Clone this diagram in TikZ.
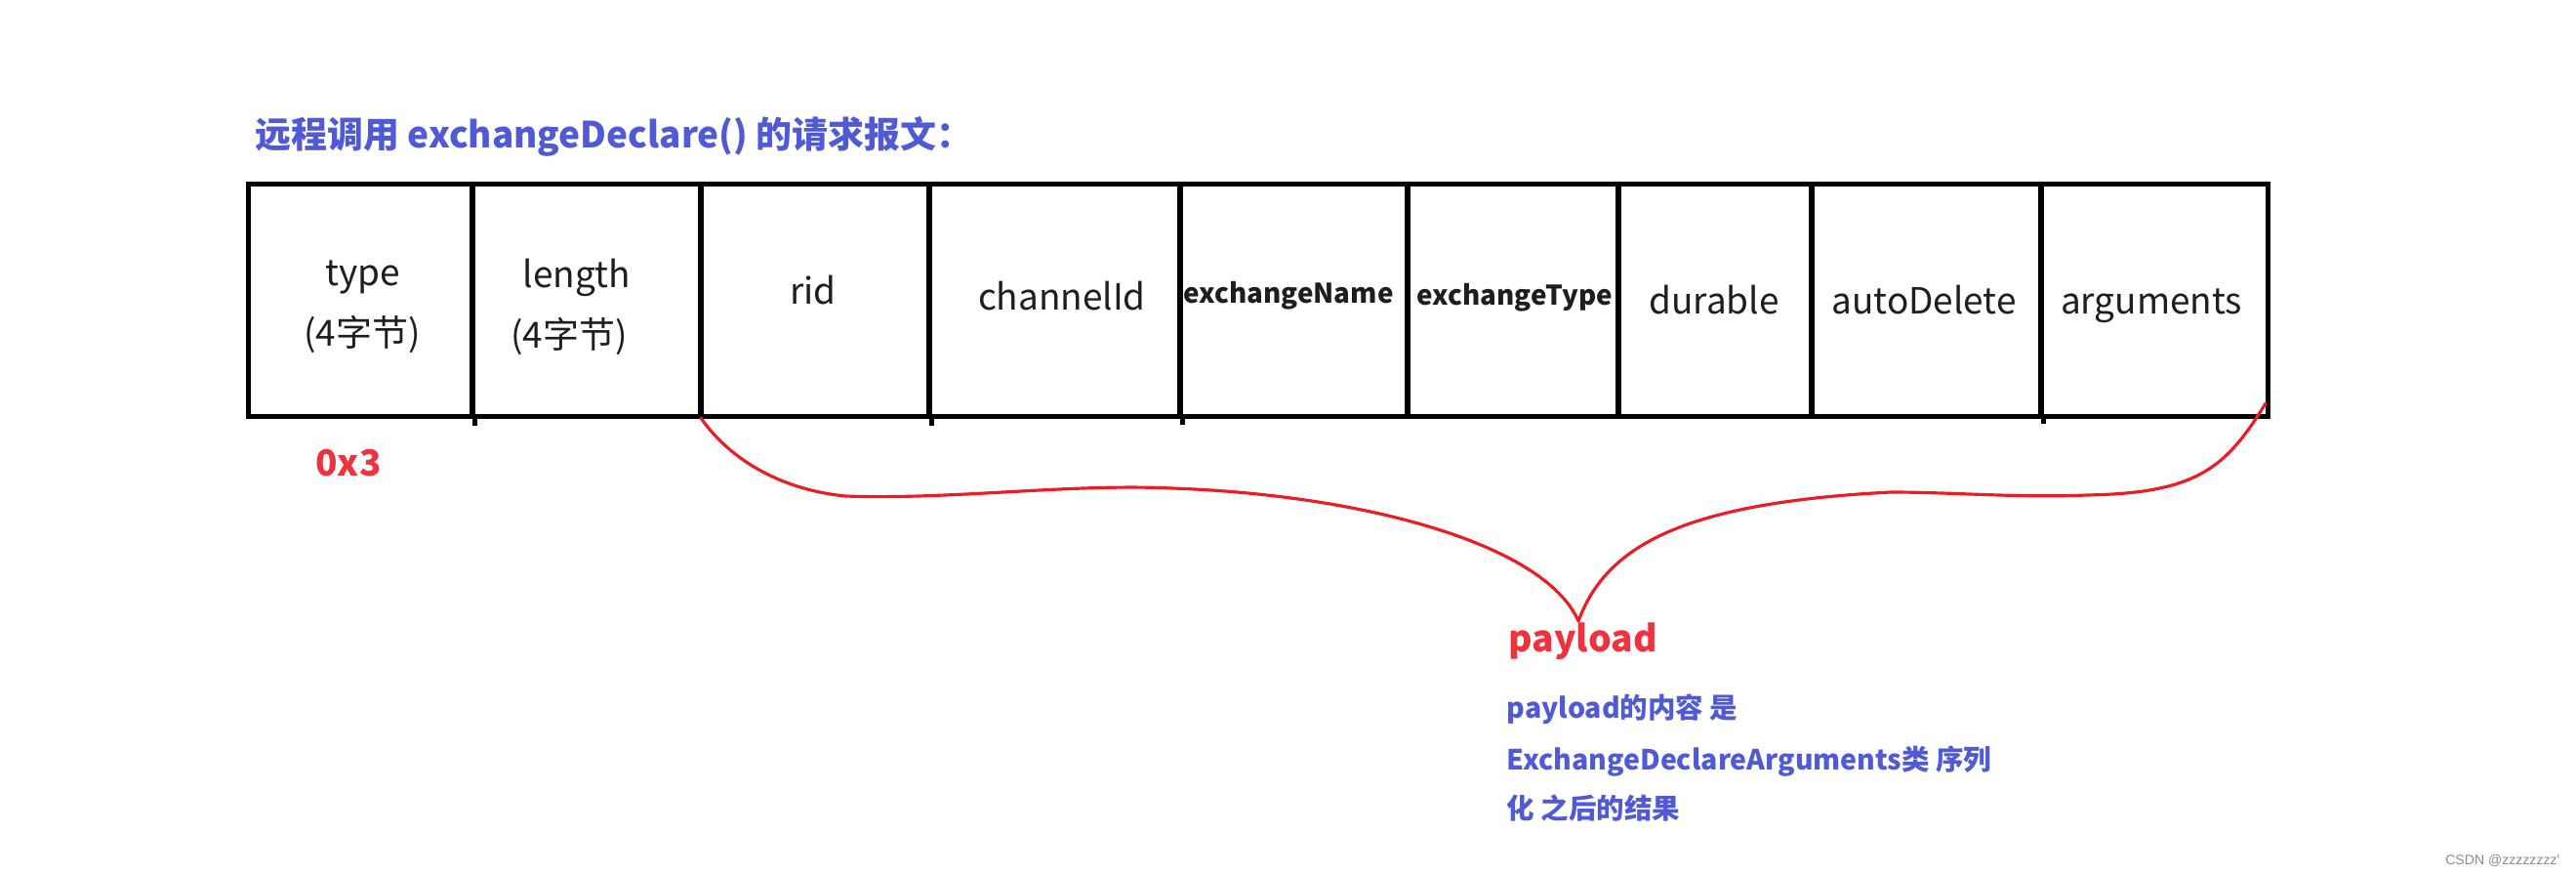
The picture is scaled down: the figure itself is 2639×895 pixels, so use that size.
\documentclass[tikz,border=0pt]{standalone}
\usepackage{fontspec}
\setmainfont{Noto Sans CJK SC}
\newfontfamily\wmfont{Liberation Sans}
\definecolor{tblue}{RGB}{80,90,212}
\definecolor{tred}{RGB}{238,50,62}
\definecolor{bred}{RGB}{237,28,36}
\definecolor{ink}{RGB}{30,30,30}
\begin{document}
\begin{tikzpicture}[x=0.01cm,y=-0.01cm,
  cell/.style={draw=black, line width=1.42pt, minimum height=2.37cm, inner sep=0pt},
  lab/.style={font=\fontsize{10.5pt}{12pt}\selectfont, anchor=base, inner sep=0pt, text=ink},
  smalllab/.style={font=\fontsize{7.9pt}{10pt}\selectfont\bfseries, anchor=base, inner sep=0pt, text=ink},
  bluetxt/.style={font=\fontsize{8.1pt}{10pt}\selectfont\bfseries, anchor=base west, inner sep=0pt, text=tblue},
  tick/.style={line width=1.42pt}]
\useasboundingbox (0,0) rectangle (2639,895);
\fill[white] (0,0) rectangle (2639,895);

% title
\node[anchor=base west, inner sep=0pt, text=tblue, font=\fontsize{10.5pt}{12pt}\selectfont\bfseries] (title) at (261,152) {远程调用 exchangeDeclare() 的请求报文：};

% cells
\node[cell, minimum width=2.29cm] (c1) at (369.5,307.5) {};
\node[cell, minimum width=2.34cm] (c2) at (601,307.5) {};
\node[cell, minimum width=2.34cm] (c3) at (835,307.5) {};
\node[cell, minimum width=2.57cm] (c4) at (1080.5,307.5) {};
\node[cell, minimum width=2.33cm] (c5) at (1325.5,307.5) {};
\node[cell, minimum width=2.16cm] (c6) at (1550,307.5) {};
\node[cell, minimum width=1.98cm] (c7) at (1757,307.5) {};
\node[cell, minimum width=2.35cm] (c8) at (1973.5,307.5) {};
\node[cell, minimum width=2.32cm] (c9) at (2207,307.5) {};

% small ticks of the dividers below the table
\draw[tick] (c1.south east) -- ++(0,7);
\draw[tick] (c3.south east) -- ++(0,7);
\draw[tick] (c4.south east) -- ++(0,6);
\draw[tick] (c8.south east) -- ++(0,5);

% labels
\node[lab] (l1a) at (372,293) {type};
\node[lab] (l1b) at (371,355) {(4字节)};
\node[lab] (l2a) at (591,295) {length};
\node[lab] (l2b) at (583,357) {(4字节)};
\node[lab] (l3) at (833,312) {rid};
\node[lab] (l4) at (1088,318) {channelId};
\node[smalllab] (l5) at (1320,311) {exchangeName};
\node[smalllab] (l6) at (1552,313) {exchangeType};
\node[lab] (l7) at (1756,322) {durable};
\node[lab] (l8) at (1971,322) {autoDelete};
\node[lab] (l9) at (2204,322) {arguments};

% 0x3
\node[anchor=base, inner sep=0pt, text=tred, font=\fontsize{10.5pt}{12pt}\selectfont\bfseries] (hex) at (357,488) {0x3};

% brace
\coordinate (bL) at (718,428);
\coordinate (bR) at (2321,413);
\coordinate (tip) at (1617,636);
\draw[bred, line width=0.9pt, line cap=round, line join=round]
  (bL) .. controls (740,460) and (787,500) .. (866,508)
       .. controls (975,512) and (1095,495) .. (1201,500)
       .. controls (1400,507) and (1583,558) .. (tip)
       .. controls (1645,560) and (1722,515) .. (1937,504)
       .. controls (2000,504) and (2070,510) .. (2138,507)
       .. controls (2250,505) and (2280,480) .. (bR);

% payload
\node[anchor=base west, inner sep=0pt, text=tred, font=\fontsize{10.6pt}{12pt}\selectfont\bfseries] (payload) at (1545,668) {payload};

\node[bluetxt] (d1) at (1543,736) {payload的内容 是};
\node[bluetxt] (d2) at (1543,789) {ExchangeDeclareArguments类 序列};
\node[bluetxt] (d3) at (1543,839) {化 之后的结果};

% watermark
\node[anchor=base east, inner sep=0pt, text=black!45, font=\wmfont\fontsize{4pt}{5pt}\selectfont] (wm) at (2623,886) {CSDN @zzzzzzzz'};
\end{tikzpicture}
\end{document}
